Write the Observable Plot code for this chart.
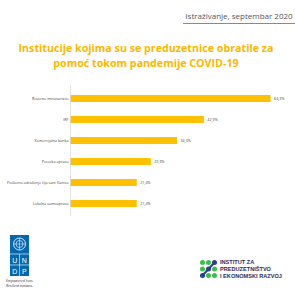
<!DOCTYPE html>
<html>
<head>
<meta charset="utf-8">
<script src="https://cdn.jsdelivr.net/npm/d3@7"></script>
<script src="https://cdn.jsdelivr.net/npm/@observablehq/plot@0.6"></script>
<style>
  html, body { margin:0; padding:0; background:#fff; }
  body { width:295px; height:300px; position:relative; overflow:hidden; font-family:"Open Sans", sans-serif; }
  #date { position:absolute; left:183px; top:10px; width:112px; font-size:8px; color:#555; text-align:center; border-bottom:1.5px solid #8a8a8a; padding-bottom:2px; white-space:nowrap; }
  #title { position:absolute; left:0; top:41px; width:292px; text-align:center; font-weight:700; font-size:10.7px; line-height:15px; color:#F9B800; white-space:nowrap; }
  #chart { position:absolute; left:0; top:75px; }
  #undp { position:absolute; left:10px; top:235px; }
  #undptxt { position:absolute; left:6px; top:279px; font-size:3.6px; line-height:4.6px; font-style:italic; color:#333; white-space:nowrap; }
  #izpr { position:absolute; left:199px; top:259px; }
  #izprtxt { position:absolute; left:220px; top:259px; font-family:"Liberation Sans", Arial, sans-serif; font-weight:700; font-size:5.6px; line-height:7px; color:#1f2a5c; white-space:nowrap; }
</style>
</head>
<body>
<div id="date">Istraživanje, septembar 2020</div>
<div id="title">Institucije kojima su se preduzetnice obratile za<br>pomoć tokom pandemije COVID-19</div>
<div id="chart"></div>
<svg id="undp" width="19" height="41" viewBox="0 0 19 41">
  <rect x="0" y="0" width="19" height="41" fill="#0468B1"/>
  <circle cx="9.5" cy="9" r="6" fill="none" stroke="#fff" stroke-width="0.8"/>
  <circle cx="9.5" cy="9" r="3.5" fill="none" stroke="#fff" stroke-width="0.6"/>
  <line x1="3.5" y1="9" x2="15.5" y2="9" stroke="#fff" stroke-width="0.5"/>
  <line x1="9.5" y1="3" x2="9.5" y2="15" stroke="#fff" stroke-width="0.5"/>
  <line x1="0" y1="19" x2="19" y2="19" stroke="#fff" stroke-width="0.6"/>
  <line x1="0" y1="30" x2="19" y2="30" stroke="#fff" stroke-width="0.6"/>
  <line x1="9.5" y1="19" x2="9.5" y2="41" stroke="#fff" stroke-width="0.6"/>
  <text x="4.75" y="27.5" fill="#fff" font-size="7" text-anchor="middle" font-family="Liberation Sans">U</text>
  <text x="14.25" y="27.5" fill="#fff" font-size="7" text-anchor="middle" font-family="Liberation Sans">N</text>
  <text x="4.75" y="38.5" fill="#fff" font-size="7" text-anchor="middle" font-family="Liberation Sans">D</text>
  <text x="14.25" y="38.5" fill="#fff" font-size="7" text-anchor="middle" font-family="Liberation Sans">P</text>
</svg>
<div id="undptxt">Empowered lives.<br>Resilient nations.</div>
<svg id="izpr" width="20" height="20" viewBox="0 0 20 20">
  <line x1="15.5" y1="3.5" x2="3.5" y2="16.5" stroke="#2e3d97" stroke-width="2"/>
  <circle cx="3.5" cy="3.5" r="2.5" fill="#3dbe4a"/>
  <circle cx="9.5" cy="3.5" r="2.5" fill="#3dbe4a"/>
  <circle cx="15.5" cy="3.5" r="2.5" fill="#2e3d97"/>
  <circle cx="3.5" cy="10" r="2.5" fill="#3dbe4a"/>
  <circle cx="9.5" cy="10" r="2.5" fill="#2e3d97"/>
  <circle cx="15.5" cy="10" r="2.5" fill="#3dbe4a"/>
  <circle cx="3.5" cy="16.5" r="2.5" fill="#2e3d97"/>
  <circle cx="9.5" cy="16.5" r="2.5" fill="#3dbe4a"/>
  <circle cx="15.5" cy="16.5" r="2.5" fill="#3dbe4a"/>
</svg>
<div id="izprtxt">INSTITUT ZA<br>PREDUZETNIŠTVO<br>I EKONOMSKI RAZVOJ</div>
<script>
const categories = ["Resorno ministarstvo", "IRF", "Komercijalna banka", "Poreska uprava", "Poslovno udruženje čija sam članica", "Lokalna samouprava"];
const values = [64.3, 42.9, 34.3, 25.9, 21.4, 21.4];
const data = categories.map((c, i) => ({category: c, value: values[i]}));
const fmt = v => v.toFixed(1).replace(".", ",") + "%";

const chart = Plot.plot({
  width: 295,
  height: 146,
  marginTop: 10,
  marginBottom: 5,
  marginLeft: 70,
  marginRight: 6.6,
  style: {fontFamily: "Open Sans, sans-serif", fontSize: "3.7px", color: "#444"},
  x: {domain: [0, 70], axis: null},
  y: {domain: categories, padding: 0.68, paddingOuter: 0.35, label: null},
  marks: [
    Plot.axisY({tickSize: 0, tickPadding: 2, fontSize: 3.7, fill: "#444"}),
    Plot.barX(data, {x: "value", y: "category", fill: "#FFC000"}),
    Plot.ruleX([0], {stroke: "#d9d9d9", strokeWidth: 0.8}),
    Plot.text(data, {x: "value", y: "category", text: d => fmt(d.value), dx: 3, textAnchor: "start", fontSize: 3.7, fill: "#444"})
  ]
});
document.getElementById("chart").appendChild(chart);
</script>
</body>
</html>
